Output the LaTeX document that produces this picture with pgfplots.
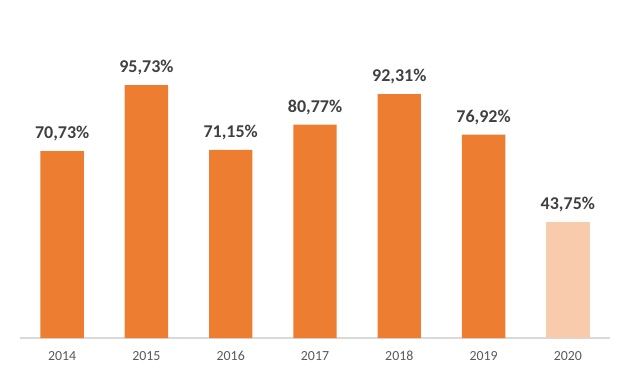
\documentclass[border=0pt]{standalone}
\usepackage{pgfplots}
\pgfplotsset{compat=1.18}
\usepackage{fontspec}
\setmainfont{Carlito}
\definecolor{barorange}{HTML}{ED7D31}
\definecolor{barlight}{HTML}{F8CBAD}
\definecolor{labelgray}{HTML}{404040}
\definecolor{tickgray}{HTML}{595959}
\definecolor{axisgray}{HTML}{D9D9D9}
\begin{document}
\begin{tikzpicture}[x=0.75pt,y=0.75pt]
\useasboundingbox (-20,-40) rectangle (610,338);
\begin{axis}[
  at={(0,0)}, anchor=south west,
  scale only axis,
  width=442.5pt, height=253.5pt,
  xmin=-0.5, xmax=6.5,
  ymin=0, ymax=127.9,
  axis x line=bottom,
  axis y line=none,
  x axis line style={draw=axisgray, line width=0.9pt, -},
  xtick={0,1,2,3,4,5,6},
  xticklabels={2014,2015,2016,2017,2018,2019,2020},
  major tick length=0pt,
  xticklabel style={font=\fontsize{10.4}{12}\selectfont, text=tickgray, yshift=-6.5pt},
  /pgf/number format/assume math mode=true,
  ybar, bar width=0.515,
  nodes near coords={\pgfmathprintnumber[fixed,fixed zerofill,precision=2,use comma]{\pgfplotspointmeta}\%},
  nodes near coords style={font=\bfseries\fontsize{13.5}{15}\selectfont, text=labelgray, anchor=south, yshift=4pt},
  point meta=y,
]
\addplot[draw=none, fill=barorange, bar shift=0pt] coordinates {
  (0,70.73) (1,95.73) (2,71.15) (3,80.77) (4,92.31) (5,76.92)
};
\addplot[draw=none, fill=barlight, bar shift=0pt] coordinates {
  (6,43.75)
};
\end{axis}
\end{tikzpicture}
\end{document}
